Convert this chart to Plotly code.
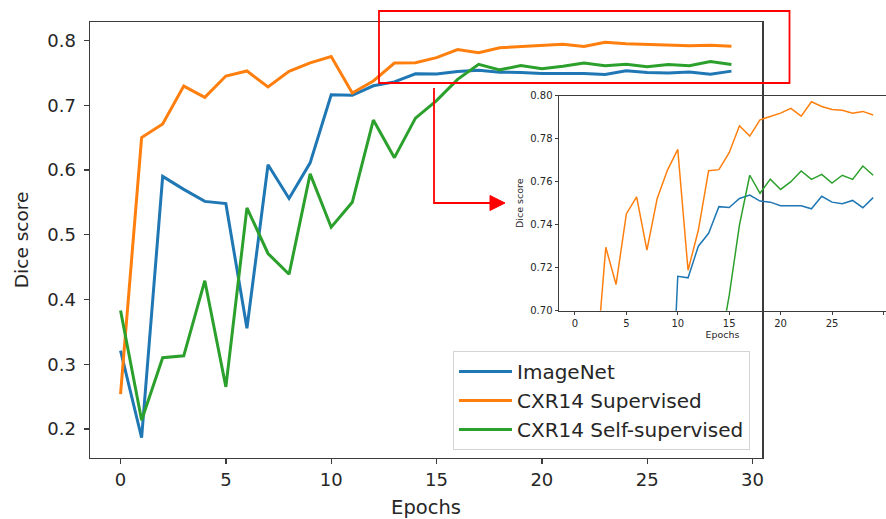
import plotly.graph_objects as go

W, H = 886, 519

epochs = list(range(30))
imagenet = [0.321, 0.1865, 0.590, 0.570, 0.5515, 0.548, 0.3555, 0.608, 0.556, 0.611,
            0.716, 0.7153, 0.730, 0.736, 0.7484, 0.748, 0.7522, 0.7538, 0.751, 0.7505,
            0.7488, 0.7487, 0.7488, 0.7474, 0.7532, 0.7505, 0.7498, 0.7513, 0.7479, 0.7526]
cxr14_supervised = [0.254, 0.650, 0.671, 0.7295, 0.7122, 0.745, 0.7529, 0.7282, 0.7522, 0.7654,
                    0.775, 0.7188, 0.7374, 0.7651, 0.7656, 0.7735, 0.786, 0.7812, 0.7888, 0.7902,
                    0.7919, 0.7941, 0.7905, 0.7972, 0.795, 0.7936, 0.7932, 0.7918, 0.7927, 0.791]
cxr14_selfsup = [0.383, 0.2135, 0.310, 0.313, 0.429, 0.265, 0.5415, 0.471, 0.439, 0.594,
                 0.5116, 0.550, 0.677, 0.619, 0.680, 0.707, 0.7399, 0.763, 0.7546, 0.7612,
                 0.7564, 0.760, 0.765, 0.7611, 0.7634, 0.7594, 0.763, 0.7611, 0.7673, 0.763]

series_names = ["ImageNet", "CXR14 Supervised", "CXR14 Self-supervised"]
series_values = [imagenet, cxr14_supervised, cxr14_selfsup]
colors = ["#1f77b4", "#ff7f0e", "#2ca02c"]

main_y_ticks = [0.2, 0.3, 0.4, 0.5, 0.6, 0.7, 0.8]
inset_y_ticks = [0.70, 0.72, 0.74, 0.76, 0.78, 0.80]
x_ticks = [0, 5, 10, 15, 20, 25, 30]

FONT = "DejaVu Sans"
TXT = "#262626"
FRAME = "#3c3c3c"


def px(x):
    return x / W


def py(y):
    return 1 - y / H


fig = go.Figure()
for i, (name, vals, c) in enumerate(zip(series_names, series_values, colors)):
    fig.add_trace(go.Scatter(x=epochs, y=vals, mode="lines", name=name,
                             line=dict(color=c, width=3), legendgroup=f"g{i}",
                             xaxis="x", yaxis="y"))
for name, vals, c in zip(series_names, series_values, colors):
    fig.add_trace(go.Scatter(x=epochs, y=vals, mode="lines", name=name,
                             line=dict(color=c, width=1.5), showlegend=False,
                             xaxis="x2", yaxis="y2", cliponaxis=True))

shapes = [
    # zoom rectangle
    dict(type="rect", xref="paper", yref="paper", x0=px(379), x1=px(789.5), y0=py(83), y1=py(11),
         line=dict(color="#ff0000", width=1.8)),
    # connector
    dict(type="path", xref="paper", yref="paper",
         path=f"M {px(434)} {py(88)} L {px(434)} {py(203)} L {px(492)} {py(203)}",
         line=dict(color="#ff0000", width=1.8)),
    dict(type="path", xref="paper", yref="paper",
         path=f"M {px(490)} {py(195.5)} L {px(505)} {py(203)} L {px(490)} {py(210.5)} Z",
         fillcolor="#ff0000", line=dict(color="#ff0000", width=1)),
]

fig.update_layout(
    width=W, height=H,
    margin=dict(l=0, r=0, t=0, b=0, autoexpand=False),
    paper_bgcolor="white",
    plot_bgcolor="rgba(0,0,0,0)",
    font=dict(family=FONT, color=TXT),
    showlegend=True,
    legend=dict(x=px(453), y=py(351), xanchor="left", yanchor="top",
                bgcolor="rgba(255,255,255,0.85)", bordercolor="#d4d4d4", borderwidth=1,
                font=dict(size=20, family=FONT, color=TXT), tracegroupgap=0,
                itemwidth=53),
    xaxis=dict(domain=[px(90), px(762)], range=[-1.45, 30.45], anchor="y", automargin=False,
               tickvals=x_ticks, ticks="outside", ticklen=5, tickwidth=1.3, tickcolor=FRAME,
               showline=True, linecolor=FRAME, linewidth=1.5, mirror=True,
               showgrid=False, zeroline=False, ticklabelstandoff=0,
               tickfont=dict(size=18, family=FONT, color=TXT),
               title=dict(text="Epochs", font=dict(size=19.5, family=FONT, color=TXT), standoff=19)),
    yaxis=dict(domain=[py(457.5), py(22.3)], range=[0.156, 0.828], anchor="x", automargin=False,
               tickvals=main_y_ticks, ticktext=[f"{v:.1f}" for v in main_y_ticks],
               ticks="outside", ticklen=5, tickwidth=1.3, tickcolor=FRAME,
               showline=True, linecolor=FRAME, linewidth=1.5, mirror=True,
               showgrid=False, zeroline=False, ticklabelstandoff=4,
               tickfont=dict(size=18, family=FONT, color=TXT),
               title=dict(text="Dice score", font=dict(size=18.5, family=FONT, color=TXT), standoff=14)),
    xaxis2=dict(domain=[px(559), 1.0], range=[-1.55, 30.25], anchor="y2", automargin=False,
                tickvals=x_ticks, ticks="outside", ticklen=3.5, tickwidth=1, tickcolor=FRAME,
                showline=True, linecolor=FRAME, linewidth=1, mirror=True,
                showgrid=False, zeroline=False,
                tickfont=dict(size=10, family=FONT, color=TXT),
                title=dict(text="Epochs", font=dict(size=9.5, family=FONT, color=TXT), standoff=2)),
    yaxis2=dict(domain=[py(310.7), py(95.7)], range=[0.70, 0.80], anchor="x2", automargin=False,
                tickvals=inset_y_ticks, ticktext=[f"{v:.2f}" for v in inset_y_ticks],
                ticks="outside", ticklen=3.5, tickwidth=1, tickcolor=FRAME,
                showline=True, linecolor=FRAME, linewidth=1, mirror=False,
                showgrid=False, zeroline=False,
                tickfont=dict(size=10, family=FONT, color=TXT),
                title=dict(text="Dice score", font=dict(size=9.5, family=FONT, color=TXT), standoff=4)),
    shapes=shapes,
)

fig.write_html("out.html",
               config={"displayModeBar": False, "staticPlot": True},
               post_script="document.body.style.margin='0px';document.body.style.overflow='hidden';")
